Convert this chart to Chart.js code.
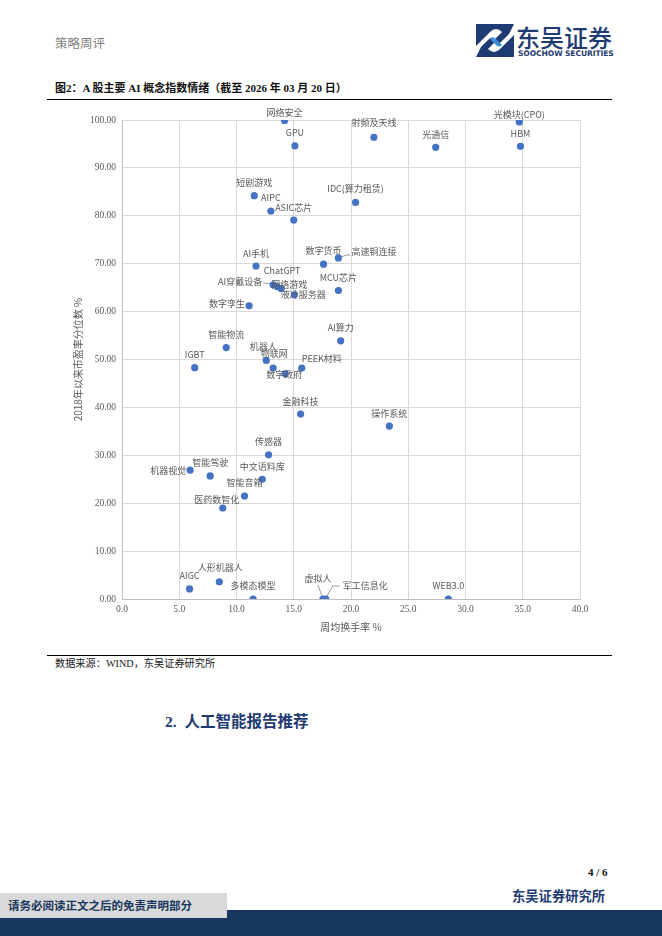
<!DOCTYPE html>
<html>
<head>
<meta charset="utf-8">
<script src="https://cdn.jsdelivr.net/npm/chart.js@4.4.1/dist/chart.umd.min.js"></script>
<style>
  html, body { margin:0; padding:0; background:#fff; }
  body { width:662px; height:936px; position:relative; overflow:hidden; font-family:"Liberation Serif","Noto Sans CJK SC",serif; }
  .abs { position:absolute; white-space:nowrap; line-height:1; }
  #chart { position:absolute; left:60px; top:108px; }
</style>
</head>
<body>
<div class="abs" style="left:55px;top:37px;font-size:12.5px;color:#7f7f7f;font-family:'Noto Sans CJK SC';">策略周评</div>

<svg class="abs" style="left:476px;top:24px;" width="38" height="33" viewBox="0 0 38 33">
  <rect x="0" y="0" width="38" height="33" fill="#1f3b73"/>
  <path d="M0 33 L0 22 L14 8 Q20 2 26 8 L19 15 Q16 12 13 15 L5 23 Z" fill="#ffffff"/>
  <path d="M38 0 L38 11 L24 25 Q18 31 12 25 L19 18 Q22 21 25 18 L33 10 Z" fill="#ffffff"/>
  <path d="M14 15 Q17 12 20 15 L26 21 Q23 24 20 21 Z" fill="#3a8fd8"/>
</svg>
<div class="abs" style="left:516px;top:25px;font-size:24px;color:#1f3b73;font-family:'Noto Sans CJK SC';font-weight:500;">东吴证券</div>
<div class="abs" style="left:518px;top:50px;font-size:7.6px;color:#1f3b73;font-family:'DejaVu Sans';font-weight:bold;letter-spacing:-0.1px;">SOOCHOW SECURITIES</div>

<div class="abs" style="left:55px;top:83px;font-size:11px;color:#111;font-weight:bold;font-family:'Liberation Serif','Noto Sans CJK SC';">图2：A 股主要 AI 概念指数情绪（截至 2026 年 03 月 20 日）</div>
<div class="abs" style="left:47px;top:99px;width:565px;height:0;border-top:1.5px solid #000;"></div>

<canvas id="chart" width="540" height="530"></canvas>

<div class="abs" style="left:47px;top:655px;width:565px;height:0;border-top:1.5px solid #000;"></div>
<div class="abs" style="left:55px;top:659px;font-size:10.2px;color:#222;font-family:'Liberation Serif','Noto Sans CJK SC';">数据来源：WIND，东吴证券研究所</div>

<div class="abs" style="left:165px;top:714px;font-size:15.5px;color:#1f3b73;font-weight:bold;font-family:'Liberation Serif','Noto Sans CJK SC';">2.&nbsp;&nbsp;人工智能报告推荐</div>

<div class="abs" style="left:588px;top:867px;font-size:11px;color:#111;font-weight:bold;font-family:'Liberation Serif';">4 / 6</div>
<div class="abs" style="left:512px;top:889px;font-size:13.3px;color:#1f3b73;font-weight:bold;font-family:'Noto Sans CJK SC';">东吴证券研究所</div>
<div class="abs" style="left:0;top:910px;width:662px;height:26px;background:#17365d;"></div>
<div class="abs" style="left:0;top:893px;width:227px;height:25px;background:#d9d9d9;"></div>
<div class="abs" style="left:8px;top:900px;font-size:11.5px;color:#17365d;font-weight:bold;font-family:'Noto Sans CJK SC';">请务必阅读正文之后的免责声明部分</div>

<script>
// ---- data ----
const names = ["网络安全","GPU","射频及天线","光通信","光模块(CPO)","HBM","短剧游戏","AIPC","ASIC芯片","IDC(算力租赁)",
  "AI手机","数字货币","高速铜连接","MCU芯片","AI穿戴设备","ChatGPT","网络游戏","液冷服务器","数字孪生","智能物流",
  "IGBT","AI算力","机器人","物联网","数字政府","PEEK材料","金融科技","操作系统","传感器","机器视觉",
  "智能驾驶","中文语料库","智能音箱","医药数智化","AIGC","人形机器人","多模态模型","虚拟人","军工信息化","WEB3.0"];
const turnover = [14.2,15.1,22.0,27.4,34.7,34.8,11.55,13.0,15.0,20.4,
  11.7,17.6,18.9,18.9,13.2,13.55,13.9,15.05,11.1,9.1,
  6.35,19.1,12.6,13.2,14.25,15.7,15.6,23.35,12.8,5.95,
  7.7,12.25,10.7,8.8,5.9,8.5,11.45,17.55,17.8,28.5];
const percentile = [99.9,94.6,96.4,94.3,99.6,94.5,84.2,81.0,79.1,82.8,
  69.5,69.9,71.2,64.4,65.6,65.2,64.8,63.5,61.2,52.5,
  48.3,53.9,49.8,48.2,47.0,48.2,38.6,36.1,30.1,26.9,
  25.7,25.0,21.5,19.0,2.1,3.6,0.0,0.0,0.0,0.0];
const xTicks = ["0.0","5.0","10.0","15.0","20.0","25.0","30.0","35.0","40.0"];
const yTicks = ["0.00","10.00","20.00","30.00","40.00","50.00","60.00","70.00","80.00","90.00","100.00"];

// ---- label placement (pixel offsets from the point; style only) ----
const placement = {
  "网络安全": {dy:-8},
  "光模块(CPO)": {dy:-7},
  "射频及天线": {dy:-15},
  "IDC(算力租赁)": {dy:-14},
  "数字货币": {dy:-14},
  "高速铜连接": {dx:13, dy:-6, align:'left', leader:[[3,-1],[8,-3],[12,-3]]},
  "AI穿戴设备": {dx:-11, dy:-3, align:'right', leader:[[-3,-1],[-10,-2]]},
  "ChatGPT": {dx:5, dy:-16},
  "网络游戏": {dx:8, dy:-4},
  "液冷服务器": {dx:9, dy:0},
  "数字孪生": {dx:-4, dy:-2, align:'right'},
  "机器人": {dx:-3, dy:-14},
  "物联网": {dx:1, dy:-15},
  "数字政府": {dx:-1, dy:1},
  "PEEK材料": {dx:20, dy:-10},
  "机器视觉": {dx:-4, dy:0, align:'right'},
  "医药数智化": {dx:-6, dy:-8},
  "人形机器人": {dx:1, dy:-14},
  "虚拟人": {dx:-5, dy:-20, leader:[[-1,-3],[-5,-14]]},
  "军工信息化": {dx:17, dy:-13, align:'left', leader:[[1,-3],[7,-13],[14,-13]]}
};

const labelPlugin = {
  id: 'pointNames',
  afterDatasetsDraw(chart) {
    const ctx = chart.ctx;
    const meta = chart.getDatasetMeta(0);
    ctx.save();
    ctx.font = '9px "Noto Sans CJK SC"';
    ctx.fillStyle = '#595959';
    ctx.strokeStyle = '#7f7f7f';
    ctx.lineWidth = 0.8;
    ctx.textBaseline = 'middle';
    meta.data.forEach((pt, i) => {
      const name = names[i];
      const p = placement[name] || {};
      const dx = p.dx !== undefined ? p.dx : 0;
      const dy = p.dy !== undefined ? p.dy : -13;
      if (p.leader) {
        ctx.beginPath();
        p.leader.forEach((o, k) => {
          if (k === 0) ctx.moveTo(pt.x + o[0], pt.y + o[1]);
          else ctx.lineTo(pt.x + o[0], pt.y + o[1]);
        });
        ctx.stroke();
      }
      ctx.textAlign = p.align || 'center';
      ctx.fillText(name, pt.x + dx, pt.y + dy);
    });
    ctx.restore();
  }
};

const points = names.map((n, i) => ({x: turnover[i], y: percentile[i]}));

new Chart(document.getElementById('chart'), {
  type: 'scatter',
  data: { datasets: [{ data: points, backgroundColor: '#4472C4', borderColor: '#4472C4', borderWidth: 0, pointRadius: 3.6, pointHoverRadius: 3.6 }] },
  options: {
    responsive: false,
    animation: false,
    devicePixelRatio: 1,
    layout: { padding: { left: 0, right: 20, top: 12, bottom: 0 } },
    plugins: { legend: { display: false }, tooltip: { enabled: false } },
    scales: {
      x: {
        type: 'linear', min: 0, max: 40,
        afterFit(s) { s.height = 39; },
        afterBuildTicks(s) { s.ticks = xTicks.map(t => ({value: parseFloat(t)})); },
        ticks: { callback: (v) => xTicks.find(t => parseFloat(t) === v), color: '#595959', font: { family: 'Liberation Serif', size: 9.5 }, padding: 5, maxRotation: 0 },
        grid: { color: '#d9d9d9', drawTicks: false },
        border: { color: '#bfbfbf' },
        title: { display: true, text: '周均换手率 %', color: '#595959', font: { family: 'Noto Sans CJK SC', size: 10 }, padding: { top: 0, bottom: 5 } }
      },
      y: {
        type: 'linear', min: 0, max: 100,
        afterFit(s) { s.width = 62; },
        afterBuildTicks(s) { s.ticks = yTicks.map(t => ({value: parseFloat(t)})); },
        ticks: { callback: (v) => yTicks.find(t => parseFloat(t) === v), color: '#595959', font: { family: 'Liberation Serif', size: 9.5 }, padding: 6 },
        grid: { color: '#d9d9d9', drawTicks: false },
        border: { color: '#bfbfbf' },
        title: { display: true, text: '2018年以来市盈率分位数 %', color: '#595959', font: { family: 'Noto Sans CJK SC', size: 10 }, padding: { top: 12, bottom: 0 } }
      }
    }
  },
  plugins: [labelPlugin]
});
</script>
</body>
</html>
